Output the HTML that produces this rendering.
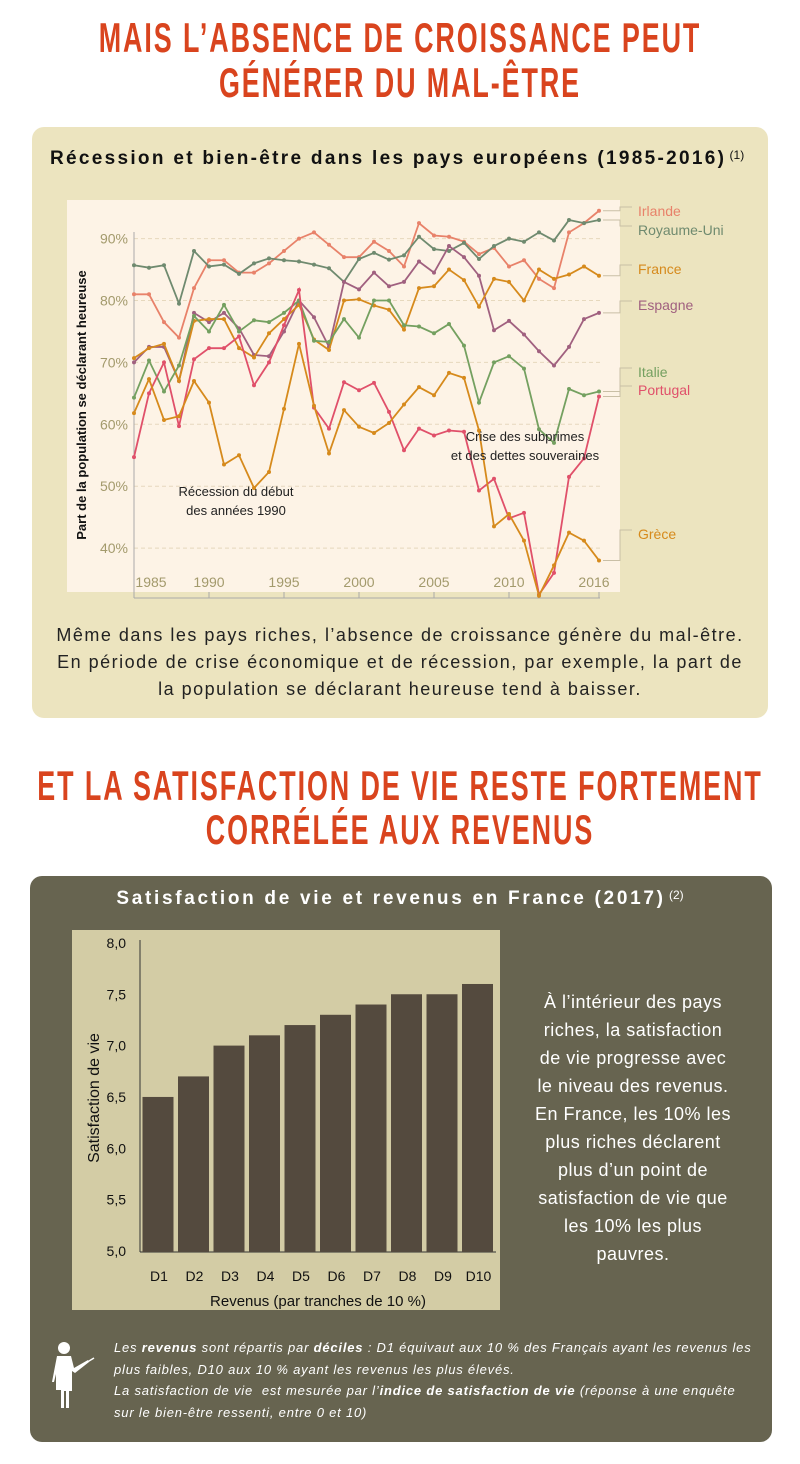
<!DOCTYPE html>
<html><head><meta charset="utf-8">
<style>
body{margin:0;background:#fff;width:800px;height:1464px;position:relative;font-family:"Liberation Sans",sans-serif;overflow:hidden}
.h{position:absolute;left:-600px;width:2000px;text-align:center;white-space:nowrap;color:#d9441e;font-weight:bold;font-size:42px;line-height:44px;letter-spacing:3px;transform:scaleX(0.64);transform-origin:1000px 0}
.p1{position:absolute;left:32px;top:127px;width:736px;height:591px;background:#ece4bf;border-radius:12px}
.p2{position:absolute;left:30px;top:876px;width:742px;height:566px;background:#676450;border-radius:12px}
.t{position:absolute;font-weight:bold;white-space:nowrap}
</style></head><body>
<div class="h" style="top:16px">MAIS L’ABSENCE DE CROISSANCE PEUT</div>
<div class="h" style="top:61px">GÉNÉRER DU MAL-ÊTRE</div>
<div class="p1"></div>
<div class="t" style="left:50px;top:148px;font-size:19px;letter-spacing:2.3px;color:#111">Récession et bien-être dans les pays européens (1985-2016)<span style="font-weight:normal;font-size:12px;vertical-align:top;letter-spacing:0"> (1)</span></div>
<svg style="position:absolute;left:0;top:0" width="800" height="720" id="lc"></svg>
<div style="position:absolute;left:0;top:622px;width:800px;text-align:center;font-size:18px;line-height:27px;letter-spacing:1.5px;color:#222;white-space:nowrap">Même dans les pays riches, l’absence de croissance génère du mal-être.<br>En période de crise économique et de récession, par exemple, la part de<br>la population se déclarant heureuse tend à baisser.</div>
<div class="h" style="top:764px">ET LA SATISFACTION DE VIE RESTE FORTEMENT</div>
<div class="h" style="top:808px">CORRÉLÉE AUX REVENUS</div>
<div class="p2"></div>
<div class="t" style="left:0;width:800px;text-align:center;top:888px;font-size:19px;letter-spacing:2.7px;color:#fff">Satisfaction de vie et revenus en France (2017)<span style="font-weight:normal;font-size:12px;vertical-align:top;letter-spacing:0"> (2)</span></div>
<svg style="position:absolute;left:0;top:0" width="800" height="1464" id="bc"></svg>
<div style="position:absolute;left:508px;top:988px;width:250px;text-align:center;font-size:18px;line-height:28px;letter-spacing:0.5px;color:#fff">À l’intérieur des pays<br>riches, la satisfaction<br>de vie progresse avec<br>le niveau des revenus.<br>En France, les 10% les<br>plus riches déclarent<br>plus d’un point de<br>satisfaction de vie que<br>les 10% les plus<br>pauvres.</div>
<div style="position:absolute;left:114px;top:1337px;width:660px;font-style:italic;font-size:13px;line-height:21.5px;letter-spacing:0.8px;color:#fff;white-space:nowrap">Les <b>revenus</b> sont répartis par <b>déciles</b> : D1 équivaut aux 10 % des Français ayant les revenus les<br>plus faibles, D10 aux 10 % ayant les revenus les plus élevés.<br>La satisfaction de vie&nbsp; est mesurée par l’<b>indice de satisfaction de vie</b> (réponse à une enquête<br>sur le bien-être ressenti, entre 0 et 10)</div>
<svg style="position:absolute;left:48px;top:1340px" width="50" height="72"><circle cx="16" cy="8" r="6" fill="#fff"/><path d="M9 16h14l3 12 14-8 1 2-14 11-3-2v20h-3v17h-3V51h-2v17h-3V50H8V34l-2 8H4z" fill="#fff"/><line x1="26" y1="30" x2="46" y2="18" stroke="#fff" stroke-width="1.5"/></svg>
<script>
var ns="http://www.w3.org/2000/svg";
function el(s,t,a,txt){var e=document.createElementNS(ns,t);for(var k in a)e.setAttribute(k,a[k]);if(txt!=null)e.textContent=txt;s.appendChild(e);return e}
var L=document.getElementById('lc');
el(L,'rect',{x:67,y:200,width:553,height:392,fill:'#fdf3e6'});
function Y(v){return 238.6+(90-v)*6.19}
function X(i){return 134+i*15}
for(var v=40;v<=90;v+=10){el(L,'line',{x1:134,x2:600,y1:Y(v),y2:Y(v),stroke:'#e6d8bd','stroke-dasharray':'4 3'});
el(L,'text',{x:128,y:Y(v)+5,'text-anchor':'end','font-size':14,fill:'#a39a6c'},v+'%')}
el(L,'line',{x1:134,x2:134,y1:232,y2:598,stroke:'#aaa'});
el(L,'line',{x1:134,x2:600,y1:598,y2:598,stroke:'#aaa'});
[1985,1990,1995,2000,2005,2010,2016].forEach(function(y){var x=X(y-1985);el(L,'line',{x1:x,x2:x,y1:592,y2:598,stroke:'#aaa'});el(L,'text',{x:x+(y==1985?17:(y==2016?-5:0)),y:587,'text-anchor':'middle','font-size':14,fill:'#a39a6c'},y)});
el(L,'text',{transform:'translate(86,405) rotate(-90)','text-anchor':'middle','font-size':13,'font-weight':'bold',fill:'#111'},'Part de la population se déclarant heureuse');
var S=[
['#e8826a',[81,81,76.5,74,82,86.5,86.5,84.5,84.5,86,88,90,91,89,87,87,89.5,88,85.5,92.5,90.5,90.3,89.5,87.5,88.5,85.5,86.5,83.5,82,91,92.5,94.5],'Irlande',212],
['#6f8a6f',[85.7,85.3,85.7,79.5,88,85.5,85.8,84.3,86,86.8,86.5,86.3,85.8,85.2,83,86.7,87.7,86.6,87.3,90.3,88.3,88,89.3,86.7,88.8,90,89.5,91,89.7,93,92.5,93],'Royaume-Uni',231],
['#a0607f',[70,72.5,72.5,67,78,76.5,78,75.5,71.2,71,75,80,77.3,72.5,83,81.8,84.5,82.3,83,86.3,84.5,88.8,87,84,75.2,76.7,74.5,71.8,69.5,72.5,77,78],'Espagne',306],
['#d68a1c',[70.7,72.3,73,67,76.7,77,77,72.3,70.8,74.7,77,79.3,73.7,72,80,80.2,79.2,78.5,75.3,82,82.3,85,83.3,79,83.5,83,80,85,83.5,84.2,85.5,84],'France',270],
['#74a060',[64.3,70.3,65.3,69.5,77.5,75,79.3,75,76.8,76.5,78,80,73.5,73.3,77,74,80,80,76,75.8,74.7,76.2,72.7,63.5,70,71,69,59.2,57,65.7,64.7,65.3],'Italie',373],
['#e0506a',[54.7,65,70,59.7,70.5,72.3,72.3,74.2,66.3,70,76,81.7,62.7,59.3,66.8,65.5,66.7,62,55.8,59.3,58.2,59,58.8,49.3,51.2,44.8,45.7,32.5,36,51.5,54.5,64.5],'Portugal',391],
['#d68a1c',[61.8,67.3,60.7,61.3,67,63.5,53.5,55,49.7,52.3,62.5,73,63,55.3,62.3,59.6,58.6,60.2,63.2,66,64.7,68.3,67.5,59,43.5,45.5,41.2,32.3,37.2,42.5,41.2,38],'Grèce',535]];
S.forEach(function(s){var p=s[1].map(function(v,i){return X(i)+','+Y(v)}).join(' ');
el(L,'polyline',{points:p,fill:'none',stroke:s[0],'stroke-width':1.8});
s[1].forEach(function(v,i){el(L,'circle',{cx:X(i),cy:Y(v),r:2,fill:s[0]})});
var ey=Y(s[1][31]);el(L,'polyline',{points:'603,'+ey+' 620,'+ey+' 620,'+(s[3]-5)+' 632,'+(s[3]-5),fill:'none',stroke:'#c9bfa6','stroke-width':1});
el(L,'text',{x:638,y:s[3]+4,'font-size':14,fill:s[0]},s[2])});
el(L,'text',{x:236,y:496,'text-anchor':'middle','font-size':13,fill:'#222'},'Récession du début');
el(L,'text',{x:236,y:515,'text-anchor':'middle','font-size':13,fill:'#222'},'des années 1990');
el(L,'text',{x:525,y:441,'text-anchor':'middle','font-size':13,fill:'#222'},'Crise des subprimes');
el(L,'text',{x:525,y:460,'text-anchor':'middle','font-size':13,fill:'#222'},'et des dettes souveraines');
var B=document.getElementById('bc');
el(B,'rect',{x:72,y:930,width:428,height:380,fill:'#d3cca5'});
function BY(v){return 1251-(v-5)*102.7}
for(var v=5;v<=8.01;v+=0.5){el(B,'text',{x:126,y:BY(v)+5,'text-anchor':'end','font-size':14,fill:'#111'},v.toFixed(1).replace('.',','))}
el(B,'line',{x1:140,x2:140,y1:940,y2:1252,stroke:'#333'});
el(B,'line',{x1:140,x2:496,y1:1252,y2:1252,stroke:'#333'});
[6.5,6.7,7.0,7.1,7.2,7.3,7.4,7.5,7.5,7.6].forEach(function(v,i){var cx=158+i*35.5;el(B,'rect',{x:cx-15.5,y:BY(v),width:31,height:1252-BY(v),fill:'#544a3e'});el(B,'text',{x:cx+1,y:1281,'text-anchor':'middle','font-size':14,fill:'#111'},'D'+(i+1))});
el(B,'text',{x:318,y:1306,'text-anchor':'middle','font-size':15,fill:'#111'},'Revenus (par tranches de 10 %)');
el(B,'text',{transform:'translate(99,1098) rotate(-90)','text-anchor':'middle','font-size':16,fill:'#111'},'Satisfaction de vie');
</script>
</body></html>
